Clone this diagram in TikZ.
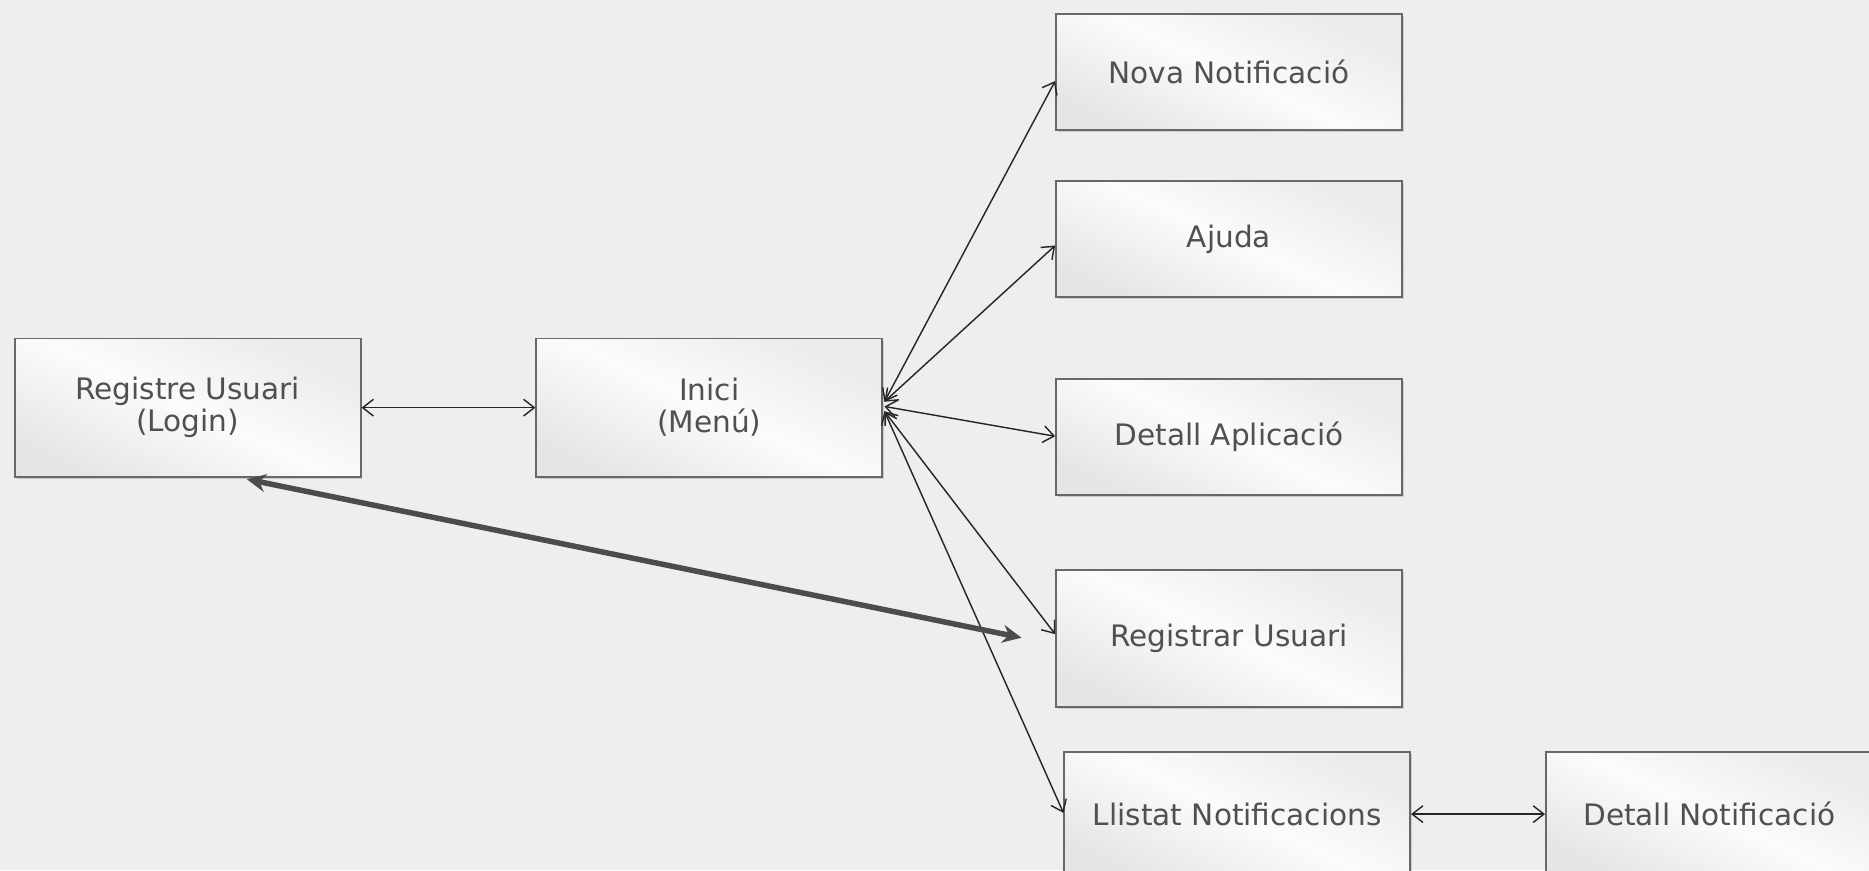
\documentclass[tikz,border=0pt]{standalone}
\usepackage{fontspec}
\setmainfont{DejaVu Sans}
\usetikzlibrary{arrows.meta,shadows}
\definecolor{bg}{HTML}{EDEEF0}
\definecolor{boxedge}{HTML}{686868}
\definecolor{txt}{HTML}{505050}
\definecolor{thick}{HTML}{4C4C4C}
\tikzset{
  pagebox/.style={draw=boxedge, line width=0.8pt,
    shading=axis, left color=gray!16, right color=gray!20, middle color=white!97!gray,
    shading angle=-25,
    drop shadow={shadow xshift=0.8pt, shadow yshift=-0.9pt, opacity=0.3},
    text=txt, font=\fontsize{12.4}{13.4}\selectfont, align=center,
    minimum width=145pt, inner sep=0pt},
  link/.style={draw=black!85, line width=0.6pt,
    {Straight Barb[length=4.5pt,width=7pt]}-{Straight Barb[length=4.5pt,width=7pt]}},
  biglink/.style={draw=thick, line width=2.3pt,
    {Stealth[length=8pt,width=7.5pt]}-{Stealth[length=8pt,width=7.5pt]}},
}
\begin{document}
\begin{tikzpicture}[x=0.5pt,y=-0.5pt]
\fill[bg] (0,0) rectangle (1568,730);
\useasboundingbox (0,0) rectangle (1568,730);
\clip (0,0) rectangle (1568,730);

\node[pagebox, minimum height=58pt] (login) at (157.5,342) {Registre Usuari\\(Login)};
\node[pagebox, minimum height=58pt] (inici) at (595,342) {Inici\\(Menú)};
\node[pagebox, minimum height=48.5pt] (nova) at (1031,60.5) {Nova Notificació};
\node[pagebox, minimum height=48.5pt] (ajuda) at (1031,200.5) {Ajuda};
\node[pagebox, minimum height=48.5pt] (detapp) at (1031,366.5) {Detall Aplicació};
\node[pagebox, minimum height=57.5pt] (reg) at (1031,535.5) {Registrar Usuari};
\node[pagebox, minimum height=52pt] (llistat) at (1038,683) {Llistat Notificacions};
\node[pagebox, minimum height=52pt, minimum width=137pt] (detnot) at (1434,683) {Detall Notificació};

\coordinate (hubup) at (742,337);
\coordinate (hubmid) at (742,341);
\coordinate (hubdown) at (742,345);
\coordinate (regend) at (857,535);
\coordinate (loginbot) at (207,402);

\draw[link] (login.east) -- (inici.west);
\draw[link] (hubup) -- (nova.west |- 0,68);
\draw[link] (hubup) -- (ajuda.west |- 0,206);
\draw[link] (hubmid) -- (detapp.west |- 0,366);
\draw[link] (hubdown) -- (reg.west |- 0,532);
\draw[link] (hubdown) -- (llistat.west |- 0,682);
\draw[link] (llistat.east) -- (detnot.west);
\draw[biglink] (loginbot) -- (regend);
\end{tikzpicture}
\end{document}
